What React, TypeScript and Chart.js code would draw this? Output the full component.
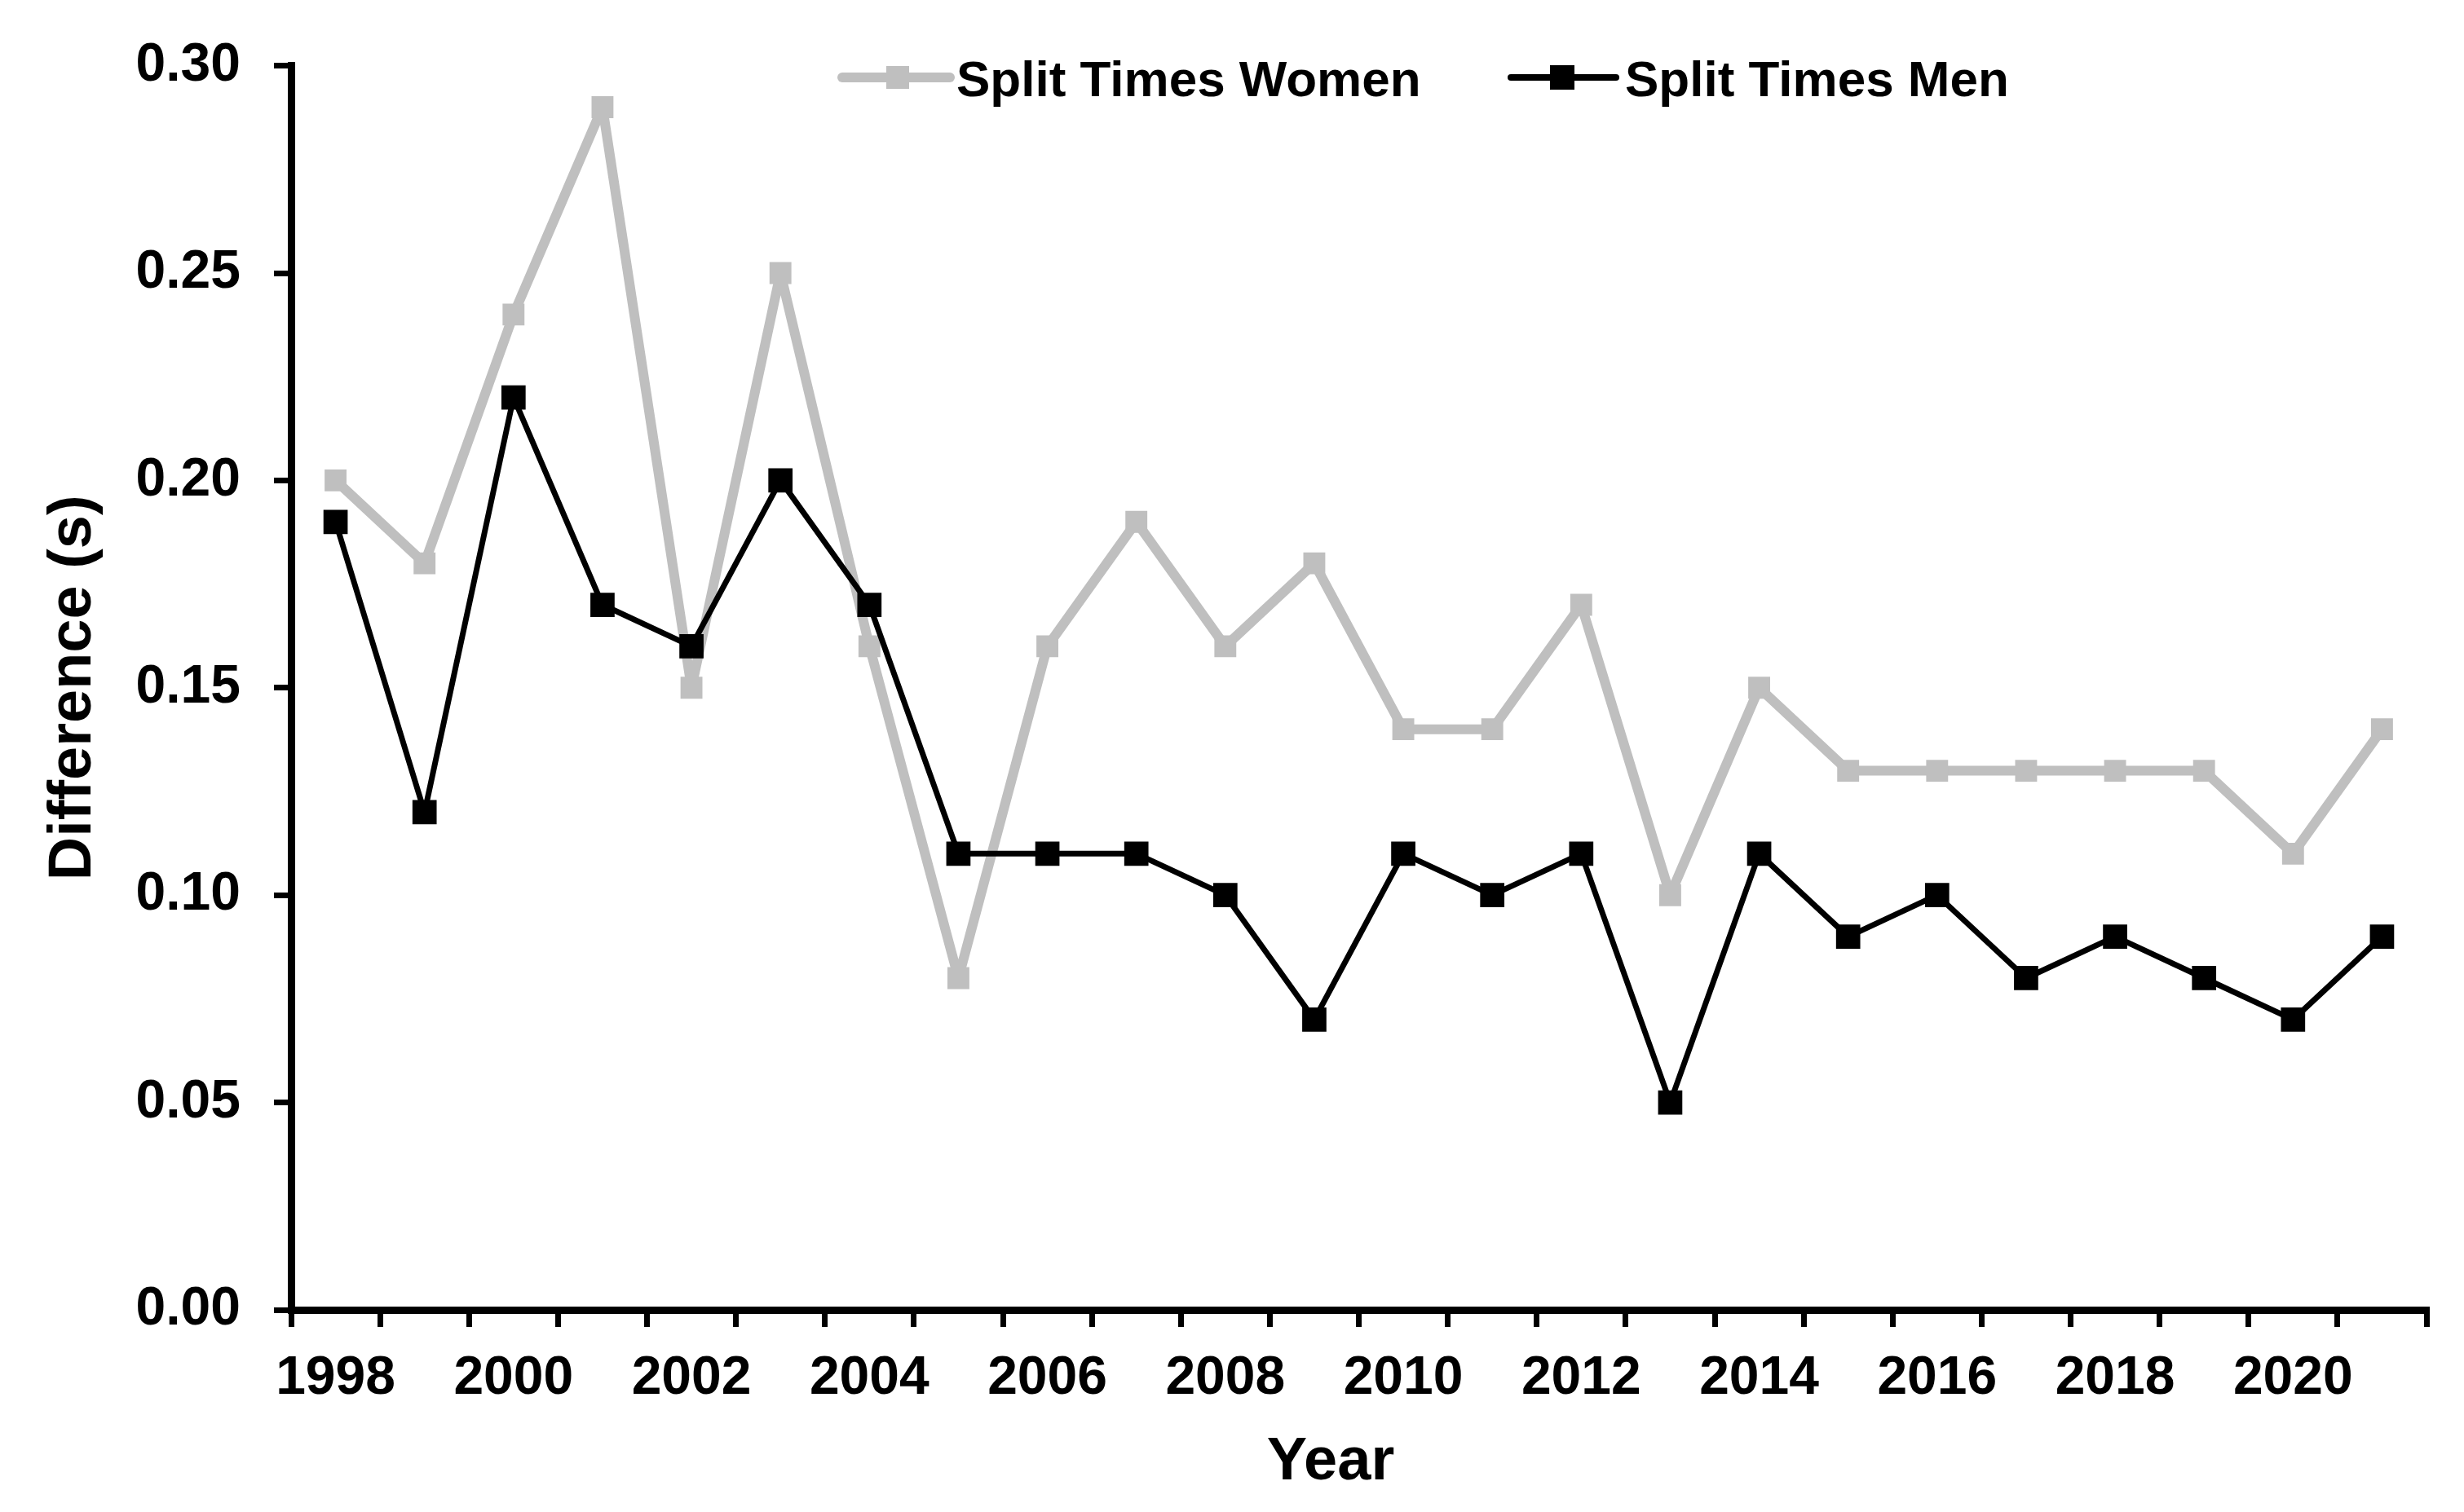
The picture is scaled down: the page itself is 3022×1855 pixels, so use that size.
import React, { useEffect, useRef } from 'react';
import { Chart, registerables } from 'chart.js';

Chart.register(...registerables);

const years = [
  '1998', '1999', '2000', '2001', '2002', '2003', '2004', '2005',
  '2006', '2007', '2008', '2009', '2010', '2011', '2012', '2013',
  '2014', '2015', '2016', '2017', '2018', '2019', '2020', '2021',
];

const womenSplit = [
  0.20, 0.18, 0.24, 0.29, 0.15, 0.25, 0.16, 0.08,
  0.16, 0.19, 0.16, 0.18, 0.14, 0.14, 0.17, 0.10,
  0.15, 0.13, 0.13, 0.13, 0.13, 0.13, 0.11, 0.14,
];

const menSplit = [
  0.19, 0.12, 0.22, 0.17, 0.16, 0.20, 0.17, 0.11,
  0.11, 0.11, 0.10, 0.07, 0.11, 0.10, 0.11, 0.05,
  0.11, 0.09, 0.10, 0.08, 0.09, 0.08, 0.07, 0.09,
];

const seriesLabels = ['Split Times Women', 'Split Times Men'];
const yAxisTitle = 'Difference (s)';
const xAxisTitle = 'Year';

const FONT = "'Liberation Sans', Arial, Helvetica, sans-serif";
const GRAY = '#BFBFBF';
const BLACK = '#000000';

const legendPlugin = {
  id: 'customLegend',
  afterDraw(chart: any) {
    const ctx = chart.ctx;
    const slots = [
      { x1: 1033, x2: 1165, mx: 1101, tx: 1173, lw: 12, half: 14 },
      { x1: 1853, x2: 1982, mx: 1916, tx: 1993, lw: 8, half: 15 },
    ];
    const cy = 95;
    ctx.save();
    chart.data.datasets.forEach((ds: any, i: number) => {
      const s = slots[i];
      ctx.strokeStyle = ds.borderColor;
      ctx.lineWidth = s.lw;
      ctx.lineCap = 'round';
      ctx.beginPath();
      ctx.moveTo(s.x1, cy);
      ctx.lineTo(s.x2, cy);
      ctx.stroke();
      ctx.fillStyle = ds.pointBackgroundColor;
      ctx.fillRect(s.mx - s.half, cy - s.half, s.half * 2, s.half * 2);
      ctx.fillStyle = '#000';
      ctx.font = `bold 62px ${FONT}`;
      ctx.textAlign = 'left';
      ctx.textBaseline = 'alphabetic';
      ctx.fillText(ds.label, s.tx, 118);
    });
    // x-axis title (slightly left of the axis centre, as in the source figure)
    ctx.fillStyle = '#000';
    ctx.font = `bold 74px ${FONT}`;
    ctx.textAlign = 'center';
    ctx.textBaseline = 'alphabetic';
    ctx.fillText(xAxisTitle, 1632, 1815);
    ctx.restore();
  },
};

export default function App() {
  const canvasRef = useRef<HTMLCanvasElement | null>(null);

  useEffect(() => {
    const canvas = canvasRef.current;
    if (!canvas) return;
    const chart = new Chart(canvas, {
      type: 'line',
      data: {
        labels: years,
        datasets: [
          {
            label: seriesLabels[0],
            data: womenSplit,
            borderColor: GRAY,
            backgroundColor: GRAY,
            borderWidth: 12,
            borderJoinStyle: 'round',
            pointStyle: 'rect',
            pointRadius: 19,
            pointBackgroundColor: GRAY,
            pointBorderWidth: 0,
            pointBorderColor: GRAY,
            tension: 0,
            order: 1,
          },
          {
            label: seriesLabels[1],
            data: menSplit,
            borderColor: BLACK,
            backgroundColor: BLACK,
            borderWidth: 7,
            borderJoinStyle: 'round',
            pointStyle: 'rect',
            pointRadius: 21,
            pointBackgroundColor: BLACK,
            pointBorderWidth: 0,
            pointBorderColor: BLACK,
            tension: 0,
            order: 0,
          },
        ],
      },
      options: {
        animation: false,
        responsive: false,
        maintainAspectRatio: false,
        devicePixelRatio: 1,
        layout: { padding: { left: 0, right: 46, top: 80, bottom: 0 } },
        plugins: {
          legend: { display: false },
          title: { display: false },
          tooltip: { enabled: false },
        },
        scales: {
          x: {
            type: 'category',
            offset: true,
            grid: {
              offset: true,
              drawOnChartArea: false,
              drawTicks: true,
              tickLength: 21,
              tickWidth: 7,
              tickColor: BLACK,
              color: BLACK,
              lineWidth: 7,
            },
            border: { display: true, color: BLACK, width: 9 },
            ticks: {
              autoSkip: false,
              maxRotation: 0,
              minRotation: 0,
              padding: 24,
              color: BLACK,
              font: { family: FONT, size: 66, weight: 'bold' },
              callback: (_v: any, i: number) => (i % 2 === 0 ? years[i] : ''),
            },
            title: { display: false },
            afterFit: (scale: any) => {
              scale.height = 248;
            },
          },
          y: {
            min: 0,
            max: 0.3,
            grid: {
              drawOnChartArea: false,
              drawTicks: true,
              tickLength: 21,
              tickWidth: 7,
              tickColor: BLACK,
              color: BLACK,
              lineWidth: 7,
            },
            border: { display: true, color: BLACK, width: 9 },
            ticks: {
              stepSize: 0.05,
              padding: 41,
              color: BLACK,
              font: { family: FONT, size: 66, weight: 'bold' },
              callback: (v: any) => Number(v).toFixed(2),
            },
            title: {
              display: true,
              text: yAxisTitle,
              color: BLACK,
              font: { family: FONT, size: 74, weight: 'bold' },
              padding: { top: 46, bottom: 0 },
            },
            afterFit: (scale: any) => {
              scale.width = 357;
            },
          },
        },
      },
      plugins: [legendPlugin],
    } as any);
    return () => chart.destroy();
  }, []);

  return (
    <div style={{ position: 'absolute', left: 0, top: 0, width: 3022, height: 1855, background: '#fff' }}>
      <canvas
        ref={canvasRef}
        width={3022}
        height={1855}
        style={{ display: 'block', width: 3022, height: 1855 }}
      />
    </div>
  );
}
